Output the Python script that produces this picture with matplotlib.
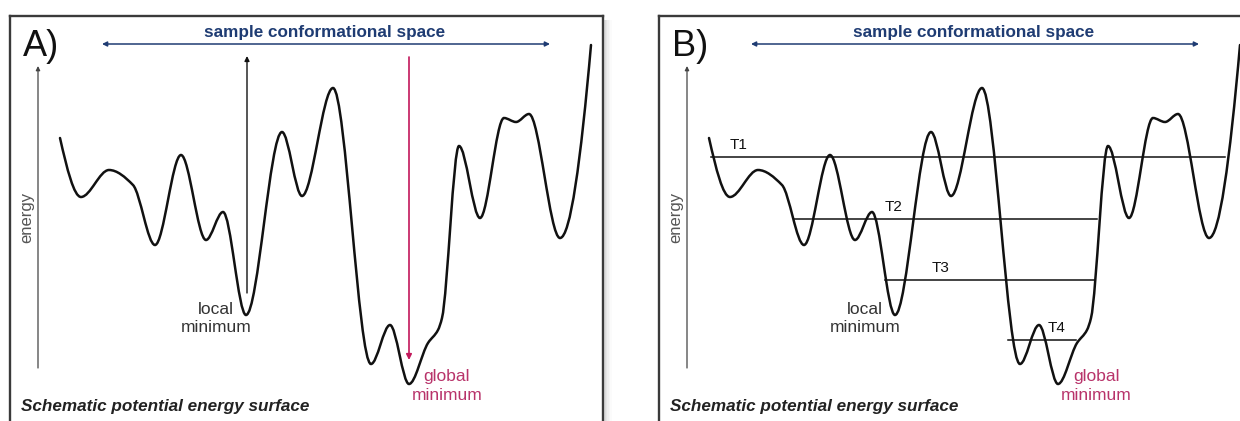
import numpy as np
import matplotlib
matplotlib.use('Agg')
import matplotlib.pyplot as plt
from matplotlib.path import Path
from matplotlib.patches import PathPatch, Rectangle

plt.rcParams['font.family'] = ['Liberation Sans', 'DejaVu Sans']

# Schematic energy surface (panel-local units: conformation, energy)
conf = [50, 71, 99, 123, 145, 171, 196, 213, 236, 272, 292, 323, 361,
        380, 399, 418, 428, 432, 449, 470, 494, 506, 519, 550, 581]
energy = [298, 239, 266, 251, 191, 281, 196, 224, 121, 304, 240, 348, 72,
          111, 52, 93, 106, 118, 290, 218, 318, 314, 322, 198, 391]

# Temperature levels in panel B
t_labels = ['T1', 'T2', 'T3', 'T4']
t_energy = [279, 217, 156, 96]
t_start = [52, 135, 226, 349]
t_end = [566, 438, 435, 417]
t_label_x = [80, 235, 282, 398]

local_min = (236, 121)
global_min = (399, 52)

W, H = 593, 420
FIG_W, FIG_H = 1240, 421


def pchip_slopes(x, y):
    x = np.asarray(x, float)
    y = np.asarray(y, float)
    h = np.diff(x)
    d = np.diff(y) / h
    m = np.zeros_like(y)
    for k in range(1, len(x) - 1):
        if d[k - 1] * d[k] <= 0:
            m[k] = 0.0
        else:
            w1 = 2 * h[k] + h[k - 1]
            w2 = h[k] + 2 * h[k - 1]
            m[k] = (w1 + w2) / (w1 / d[k - 1] + w2 / d[k])
    # end slopes (three-point estimate)
    m[0] = ((2 * h[0] + h[1]) * d[0] - h[0] * d[1]) / (h[0] + h[1])
    if np.sign(m[0]) != np.sign(d[0]):
        m[0] = 0
    elif abs(m[0]) > 3 * abs(d[0]):
        m[0] = 3 * d[0]
    m[-1] = ((2 * h[-1] + h[-2]) * d[-1] - h[-1] * d[-2]) / (h[-1] + h[-2])
    if np.sign(m[-1]) != np.sign(d[-1]):
        m[-1] = 0
    elif abs(m[-1]) > 3 * abs(d[-1]):
        m[-1] = 3 * d[-1]
    return m


def surface_path(x, y):
    m = pchip_slopes(x, y)
    verts = [(x[0], y[0])]
    codes = [Path.MOVETO]
    for k in range(len(x) - 1):
        h = x[k + 1] - x[k]
        verts += [(x[k] + h / 3, y[k] + m[k] * h / 3),
                  (x[k + 1] - h / 3, y[k + 1] - m[k + 1] * h / 3),
                  (x[k + 1], y[k + 1])]
        codes += [Path.CURVE4] * 3
    return Path(verts, codes)


def make_panel(fig, left_px, letter):
    ax = fig.add_axes([left_px / FIG_W, (FIG_H - 16 - H) / FIG_H, W / FIG_W, H / FIG_H])
    ax.set_xlim(0, W)
    ax.set_ylim(0, H)
    ax.set_xticks([])
    ax.set_yticks([])
    for sp in ax.spines.values():
        sp.set_color('#3a3a3a')
        sp.set_linewidth(1.7)

    ax.add_patch(PathPatch(surface_path(conf, energy), fill=False,
                           edgecolor='#111111', lw=1.8, capstyle='round'))

    ax.text(13, 390, letter, fontsize=26, va='center', ha='left', color='#111111')

    # sample conformational space arrow
    ax.annotate('', xy=(92, 392), xytext=(540, 392),
                arrowprops=dict(arrowstyle='<|-|>', color='#1f3c73', lw=1.1,
                                mutation_scale=7, shrinkA=0, shrinkB=0))
    ax.text(315, 403, 'sample conformational space', fontsize=12.3, fontweight='bold',
            color='#1f3c73', ha='center', va='center')

    # energy axis
    ax.annotate('', xy=(28, 370), xytext=(28, 68),
                arrowprops=dict(arrowstyle='-|>', color='#444444', lw=0.9,
                                mutation_scale=6, shrinkA=0, shrinkB=0))
    ax.text(17, 219, 'energy', rotation=90, fontsize=12, color='#555555',
            ha='center', va='center')

    ax.text(206, 118, 'local\nminimum', fontsize=12.5, color='#333333',
            ha='center', va='center', linespacing=1.25)
    ax.text(437, 50, 'global\nminimum', fontsize=12.5, color='#b8336a',
            ha='center', va='center', linespacing=1.25)

    ax.text(11, 29, 'Schematic potential energy surface', fontsize=12.3,
            fontweight='bold', fontstyle='italic', color='#222222',
            ha='left', va='center')
    return ax


fig = plt.figure(figsize=(FIG_W / 100, FIG_H / 100), dpi=100)
fig.patch.set_facecolor('white')

# soft drop shadow right of panel A
for i, a in enumerate([0.35, 0.25, 0.16, 0.09, 0.04]):
    fig.add_artist(Rectangle(((604 + i * 1.5) / FIG_W, 0), 1.5 / FIG_W, (FIG_H - 20) / FIG_H,
                             transform=fig.transFigure, color='#9a9a9a', alpha=a, lw=0))

# Panel A
axA = make_panel(fig, 10, 'A)')
axA.annotate('', xy=(local_min[0] + 1, 380), xytext=(local_min[0] + 1, local_min[1] + 22),
             arrowprops=dict(arrowstyle='-|>', color='#111111', lw=1.0,
                             mutation_scale=7, shrinkA=0, shrinkB=0))
axA.annotate('', xy=(global_min[0], 76), xytext=(global_min[0], 379),
             arrowprops=dict(arrowstyle='-|>', color='#c2185b', lw=1.2,
                             mutation_scale=8, shrinkA=0, shrinkB=0))

# Panel B
axB = make_panel(fig, 659, 'B)')
for lab, e, x0, x1, xl in zip(t_labels, t_energy, t_start, t_end, t_label_x):
    axB.plot([x0, x1], [e, e], color='#111111', lw=1.1)
    axB.text(xl, e + 12, lab, fontsize=11, color='#111111', ha='center', va='center')

fig.savefig('out.png', dpi=100, facecolor='white')
